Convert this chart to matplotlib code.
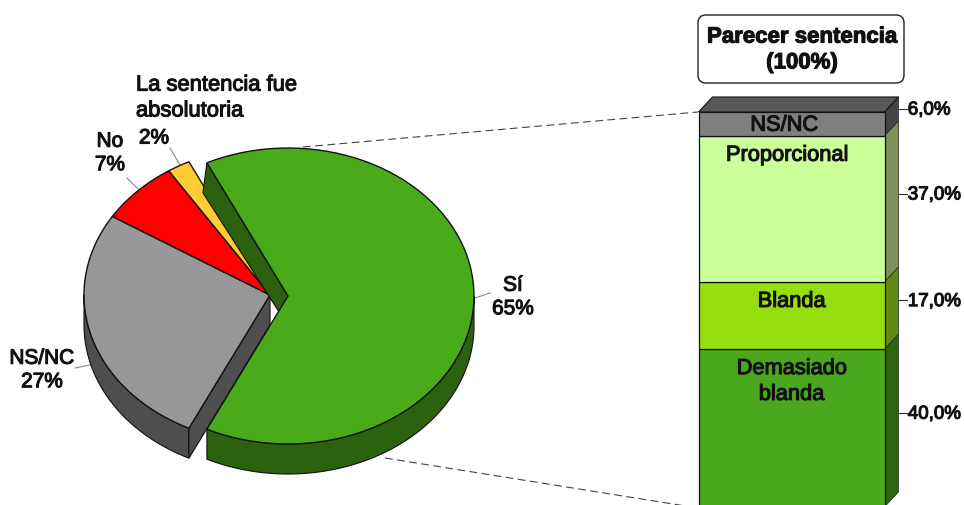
import numpy as np
import matplotlib
matplotlib.use("Agg")
import matplotlib.pyplot as plt
import matplotlib.patheffects as pe
from matplotlib.patches import Polygon, FancyBboxPatch

plt.rcParams['font.family'] = ['Liberation Sans', 'DejaVu Sans']

# pie data, order is counterclockwise starting from the green slice
pie_labels = ['Sí', 'La sentencia fue\nabsolutoria', 'No', 'NS/NC']
pie_values = [65, 2, 7, 27]
pie_colors = ['#4AAB1A', '#FFCC33', '#FF0000', '#979797']
pie_dark = ['#2C6110', '#A08020', '#A00000', '#4E4E50']

# stacked bar data, bottom to top
bar_labels = ['Demasiado\nblanda', 'Blanda', 'Proporcional', 'NS/NC']
bar_values = [40.0, 17.0, 37.0, 6.0]
bar_colors = ['#4BA71E', '#97DE0F', '#CCFF99', '#808080']
bar_side = ['#2D6410', '#5F8A12', '#7C9058', '#454547']
bar_title = 'Parecer sentencia\n(100%)'

W, H = 964, 505
RX, RY, DEPTH = 186, 148, 30


def txt(ax, x, y, s, **kw):
    t = ax.text(x, y, s, fontsize=kw.pop('fontsize', 15), color='#111111',
                ha=kw.pop('ha', 'center'), va=kw.pop('va', 'center'),
                linespacing=kw.pop('linespacing', 1.3), clip_on=False, **kw)
    t.set_path_effects([pe.withStroke(linewidth=0.8, foreground='#111111')])
    return t


def arc(cx, cy, t0, t1, n=80):
    t = np.radians(np.linspace(t0, t1, n))
    return np.column_stack([cx + RX * np.cos(t), cy - RY * np.sin(t)])


def draw_slice(ax, cx, cy, t0, t1, color, dark):
    # outer rim, only the part facing the viewer
    lo, hi = max(t0, 180), min(t1, 360)
    if lo < hi:
        top = arc(cx, cy, lo, hi)
        ax.add_patch(Polygon(np.vstack([top, (top + [0, DEPTH])[::-1]]), fc=dark, ec='#111111', lw=0.8, zorder=2))
    pts = np.vstack([[cx, cy], arc(cx, cy, t0, t1)])
    ax.add_patch(Polygon(pts, fc=color, ec='#111111', lw=1.0, zorder=3))


fig = plt.figure(figsize=(W / 100, H / 100), dpi=100)
ax = fig.add_axes([0, 0, 1, 1])
ax.set_xlim(0, W)
ax.set_ylim(H, 0)
ax.axis('off')

sweeps = 360 * np.array(pie_values) / sum(pie_values)
start = -sweeps[0] / 2
angles = [start]
for s in sweeps:
    angles.append(angles[-1] + s)

# small slices stay at the center, the green one is pulled out
cx, cy = 270, 295
for i in [3, 2, 1]:
    draw_slice(ax, cx, cy, angles[i], angles[i + 1], pie_colors[i], pie_dark[i])

# cut wall of the gray slice
p = arc(cx, cy, angles[4], angles[4], 1)[0]
ax.add_patch(Polygon([[cx, cy], p, p + [0, DEPTH], [cx, cy + DEPTH]], fc=pie_dark[3], ec='#111111', lw=0.8, zorder=2))

gx, gy = 288, 296
p = arc(gx, gy, angles[1], angles[1], 1)[0]
ax.add_patch(Polygon([[gx, gy], p, p + [-4, DEPTH], [gx, gy + DEPTH]], fc=pie_dark[0], ec='#111111', lw=0.8, zorder=4))
top = arc(gx, gy, start + 360, 360)
ax.add_patch(Polygon(np.vstack([top, (top + [0, DEPTH])[::-1]]), fc=pie_dark[0], ec='#111111', lw=0.8, zorder=4))
pts = np.vstack([[gx, gy], arc(gx, gy, angles[0], angles[1])])
ax.add_patch(Polygon(pts, fc=pie_colors[0], ec='#111111', lw=1.0, zorder=5))

# pie labels and leader lines
txt(ax, 513, 297, f'{pie_labels[0]}\n{pie_values[0]}%')
txt(ax, 136, 98, pie_labels[1], ha='left', fontsize=15.8)
txt(ax, 154, 138, f'{pie_values[1]}%')
txt(ax, 110, 153, f'{pie_labels[2]}\n{pie_values[2]}%')
txt(ax, 42, 370, f'{pie_labels[3]}\n{pie_values[3]}%')
for xs, ys in [([475, 490], [298, 293]), ([75, 90], [368, 365]), ([127, 138], [178, 189]), ([170, 180], [148, 165])]:
    ax.plot(xs, ys, color='#888888', lw=0.8, zorder=1)

# dashed lines from the pie to the bar
ax.plot([303, 698], [147, 112], color='#444444', lw=0.8, ls=(0, (7, 4)), zorder=1)
ax.plot([385, 698], [458, 508], color='#444444', lw=0.8, ls=(0, (7, 4)), zorder=1)

ax.add_patch(FancyBboxPatch((704, 21), 194, 56, boxstyle='round,pad=6,rounding_size=8',
                            fc='white', ec='#222222', lw=1.0))
txt(ax, 802, 50, bar_title, fontweight='bold', fontsize=16, linespacing=1.3)

# stacked bar, one unit wide, y axis in percent
bar_ax = fig.add_axes([698.5 / W, -2 / H, 186 / W, 395 / H])
bar_ax.set_xlim(0, 1)
bar_ax.set_ylim(0, 100)
bar_ax.axis('off')
dx, dy = 14 / 186, 15 / 3.95

bottoms = np.concatenate([[0], np.cumsum(bar_values)[:-1]])
bar_ax.bar(0.5, bar_values, width=1, bottom=bottoms, color=bar_colors, edgecolor='#111111', linewidth=0.9, clip_on=False, zorder=2)

label_x = [0.5, 0.5, 0.475, 0.46]
for b, v, c, lab, lx in zip(bottoms, bar_values, bar_side, bar_labels, label_x):
    bar_ax.add_patch(Polygon([[1, b], [1 + dx, b + dy], [1 + dx, b + v + dy], [1, b + v]],
                             fc=c, ec='#222222', lw=0.5, clip_on=False, zorder=1))
    mid = b + v / 2 + dy
    bar_ax.plot([1 + dx, 1 + dx + 0.045], [mid, mid], color='#333333', lw=0.8, clip_on=False)
    txt(bar_ax, 1 + dx + 0.05, mid - 0.3, f'{v:.1f}%'.replace('.', ','), ha='left', fontsize=13.5)
    off = 2.3 if lab != 'NS/NC' else 0.7
    txt(bar_ax, lx, b + v - off, lab, va='top', fontsize=15.7)

# top face of the bar
bar_ax.add_patch(Polygon([[0, 100], [dx, 100 + dy], [1 + dx, 100 + dy], [1, 100]],
                         fc='#58585A', ec='#111111', lw=0.8, clip_on=False, zorder=3))

fig.savefig('out.png', dpi=100)
